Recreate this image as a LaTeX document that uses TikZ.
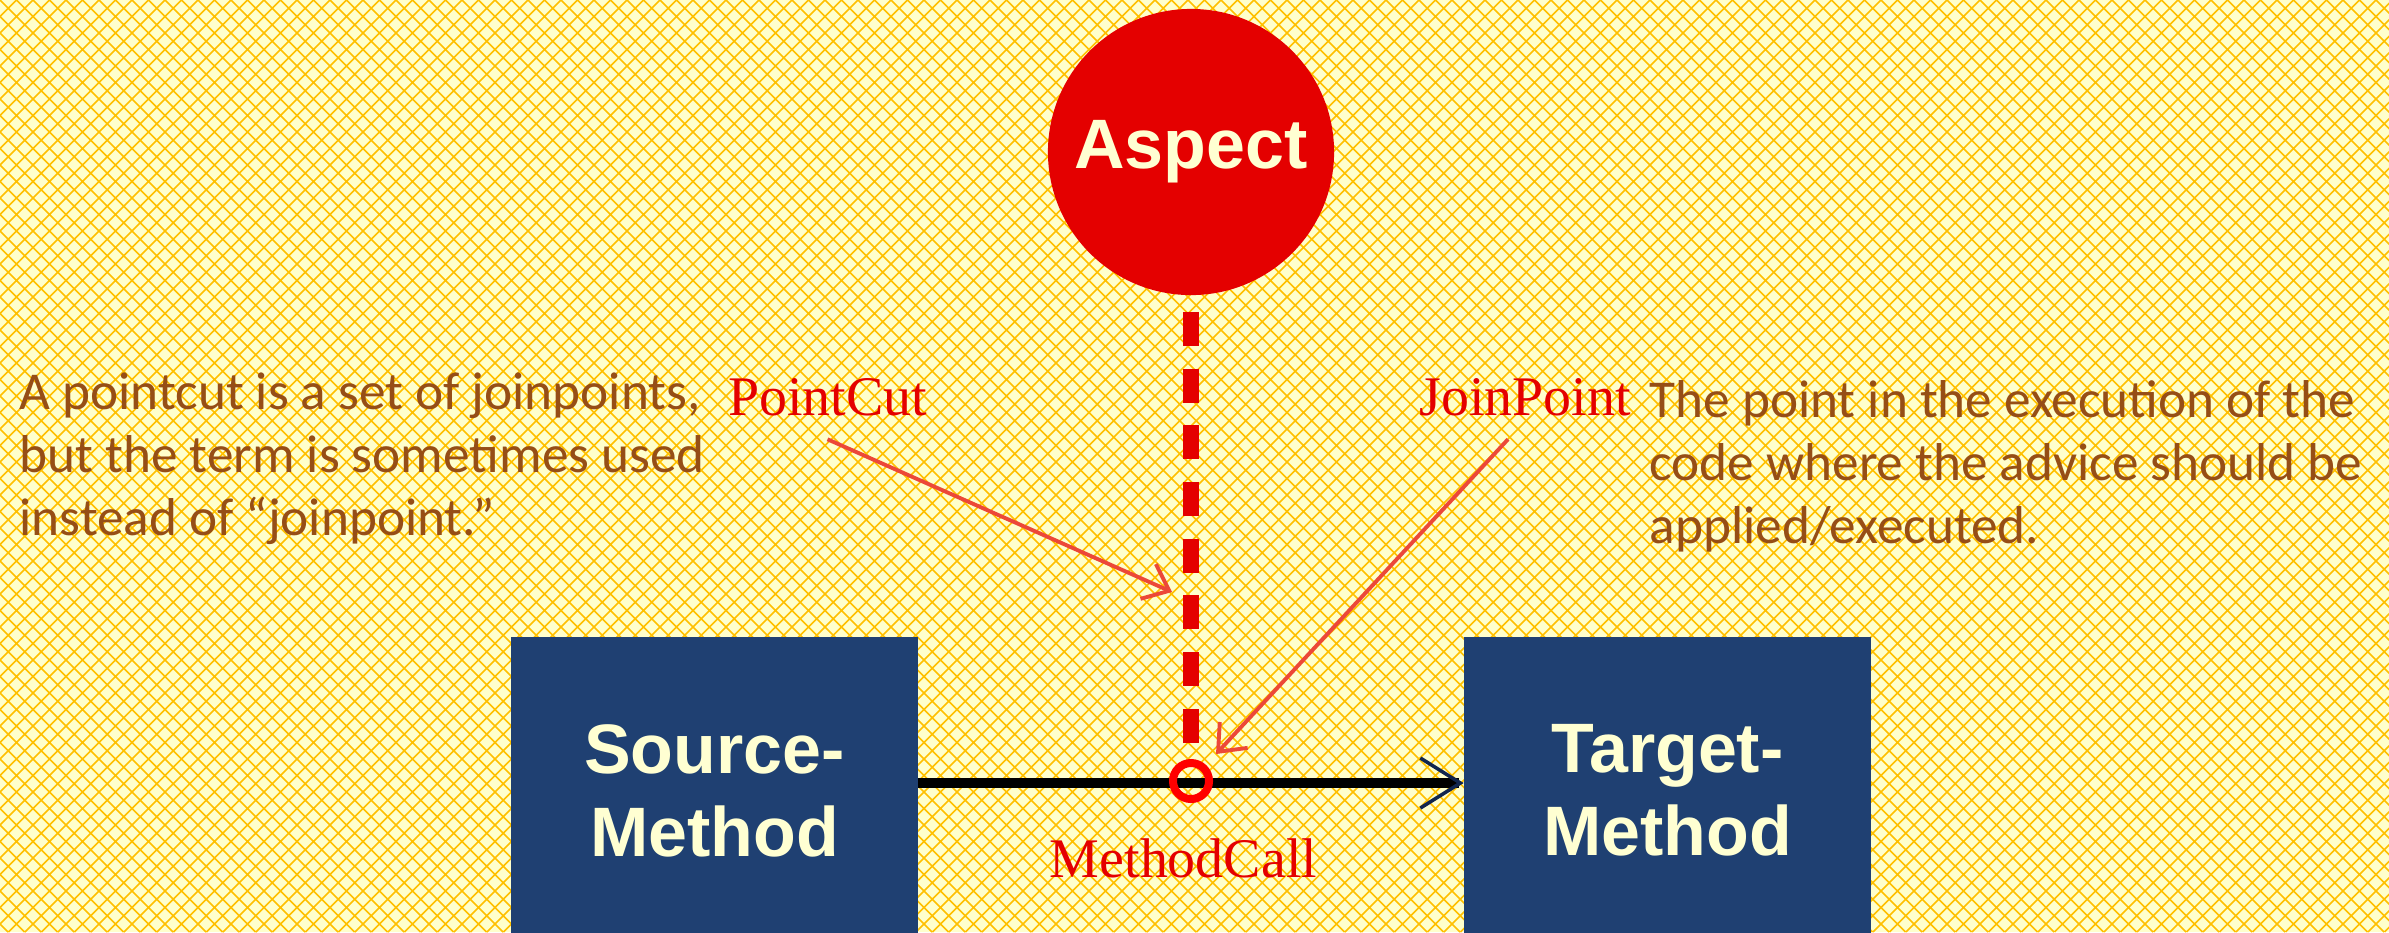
\documentclass[tikz,border=0pt]{standalone}
\usepackage{fontspec}
\usepackage{tikz}
\usetikzlibrary{arrows.meta,positioning}
\newfontfamily\notefont{Carlito}
\newfontfamily\tagfont{Liberation Serif}
\newfontfamily\boxfont{Liberation Sans}
\definecolor{paper}{RGB}{255,255,204}
\definecolor{lattice}{RGB}{255,192,0}
\definecolor{aspectred}{RGB}{228,0,0}
\definecolor{boxblue}{RGB}{31,64,114}
\definecolor{cream}{RGB}{255,255,210}
\definecolor{notebrown}{RGB}{150,78,22}
\definecolor{pointred}{RGB}{236,72,56}
\definecolor{navy}{RGB}{18,38,78}
\tikzstyle{ball} = [circle,fill=aspectred,text=cream,minimum size=2.86cm,inner sep=0,font=\boxfont\bfseries\fontsize{19.9}{23.6}\selectfont]
\tikzstyle{methodbox} = [rectangle,fill=boxblue,text=cream,minimum width=4.06cm,minimum height=3.07cm,align=center,font=\boxfont\bfseries\fontsize{19.9}{23.6}\selectfont]
\tikzstyle{tag} = [text=aspectred,inner xsep=0,inner ysep=0.23cm,font=\tagfont\fontsize{15.9}{19}\selectfont]
\tikzstyle{note} = [text=notebrown,align=left,inner sep=0,font=\notefont\fontsize{15.15}{17.9}\selectfont]
\tikzstyle{ring} = [circle,draw=red,line width=2.28pt,minimum size=0.36cm,inner sep=0]
\tikzstyle{pointer} = [draw=pointred,line width=1.1pt,-{Straight Barb[length=0.23cm,width=0.38cm]}]
\tikzstyle{callline} = [draw=black,line width=2.85pt,-{Straight Barb[length=0.4cm,width=0.5cm,line width=1pt,color=navy]}]

\begin{document}
\begin{tikzpicture}[x=0.01cm,y=-0.01cm]
        \useasboundingbox (0,0) rectangle (2389,932);
        \clip (0,0) rectangle (2389,932);
        \fill[paper] (0,0) rectangle (2389,932);
        \draw[lattice,line width=0.45pt] \foreach \i in {-57,...,202} {({\i*16.5},0) -- ({\i*16.5+932},932) ({\i*16.5},0) -- ({\i*16.5-932},932)};

        \node[ball] (aspect) at (1191,152) {Aspect};
        \node[methodbox] (source) at (714.5,790.5) {Source-\\Method};
        \node[methodbox] (target) at (1667.5,790.5) {Target-\\Method};
        \coordinate (call) at (1191,783);

        \node[tag,anchor=base] (pcut) at (827.5,415) {PointCut};
        \node[tag,anchor=base] (jpt) at (1525,415) {JoinPoint};
        \node[tag,anchor=base] (mcall) at (1183.5,877) {MethodCall};
        \node[note,anchor=base west] (pcnote) at (19,535) {A pointcut is a set of joinpoints,\\but the term is sometimes used\\instead of “joinpoint.”};
        \node[note,anchor=base west] (jpnote) at (1649,543) {The point in the execution of the\\code where the advice should be\\applied/executed.};
        \coordinate (pctip) at (1172,592);
        \coordinate (jptip) at (1216,754);

        \draw[callline] (call -| source.east) -- (call -| target.west);
        \node[ring] (join) at (1191,781) {};
        \draw[aspectred,line width=0.16cm,dash pattern=on 9.67pt off 6.46pt,dash phase=11.58pt] (aspect.south) -- (join.north);
        \draw[pointer] (pcut.south) -- (pctip);
        \draw[pointer] ([xshift=-0.17cm]jpt.south) -- (jptip);
\end{tikzpicture}
\end{document}
